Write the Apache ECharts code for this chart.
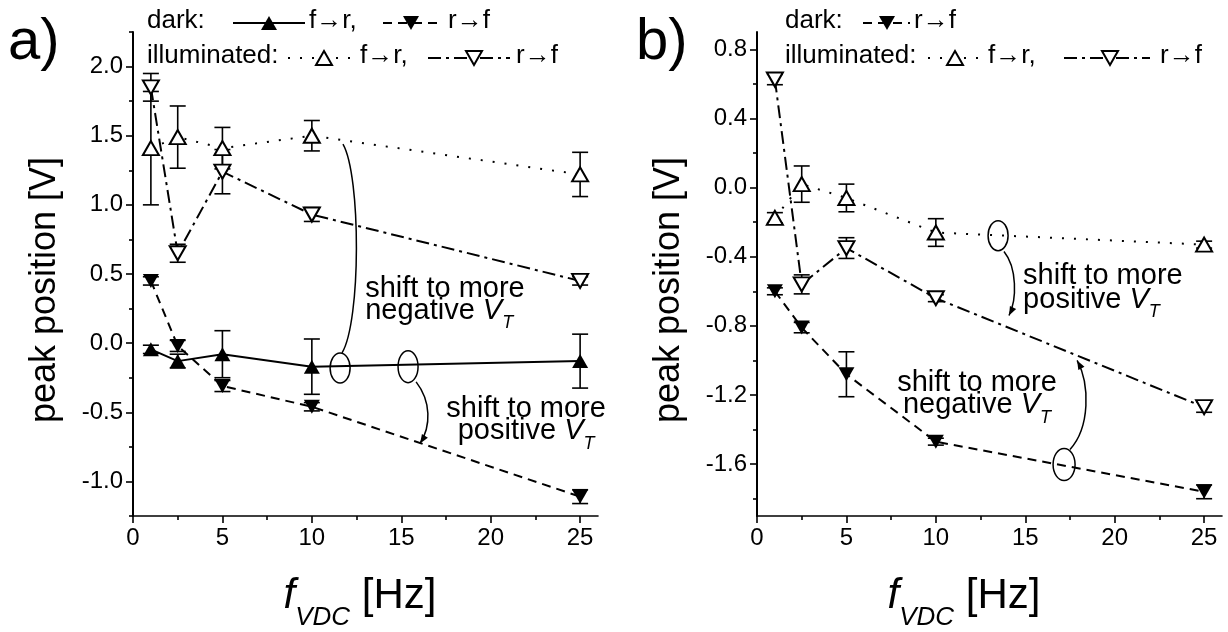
<!DOCTYPE html>
<html>
<head>
<meta charset="utf-8">
<script src="https://cdn.jsdelivr.net/npm/echarts@6.0.0/dist/echarts.min.js"></script>
<style>
  html, body { margin: 0; padding: 0; background: #fff; }
  #peak-chart { width: 1228px; height: 632px; }
</style>
</head>
<body>
<div id="peak-chart"></div>
<script>
// frequencies f_VDC [Hz]
var freq = [1, 2.5, 5, 10, 25];

// panel a) peak positions [V] and error bars
var aDarkFR = [-0.045, -0.13, -0.08, -0.17, -0.13];
var aDarkFRErr = [0.03, 0.05, 0.17, 0.2, 0.195];
var aDarkRF = [0.45, -0.02, -0.31, -0.46, -1.11];
var aDarkRFErr = [0.03, 0.04, 0.04, 0.03, 0.05];
var aIllFR = [1.41, 1.49, 1.41, 1.5, 1.22];
var aIllFRErr = [0.41, 0.225, 0.15, 0.11, 0.16];
var aIllRF = [1.85, 0.65, 1.24, 0.93, 0.45];
var aIllRFErr = [0.1, 0.065, 0.16, 0.05, 0.03];

// panel b)
var bDarkRF = [-0.6, -0.81, -1.08, -1.47, -1.76];
var bDarkRFErr = [0.02, 0.03, 0.13, 0.02, 0.04];
var bIllFR = [-0.175, 0.02, -0.06, -0.26, -0.33];
var bIllFRErr = [0.03, 0.105, 0.08, 0.08, 0.02];
var bIllRF = [0.625, -0.56, -0.35, -0.64, -1.27];
var bIllRFErr = [0.03, 0.055, 0.06, 0.02, 0.03];

// tick labels
var xTicks = [0, 5, 10, 15, 20, 25];
var xMinor = [2.5, 7.5, 12.5, 17.5, 22.5];
var aYTicks = [-1, -0.5, 0, 0.5, 1, 1.5, 2];
var aYMinor = [-1.25, -0.75, -0.25, 0.25, 0.75, 1.25, 1.75, 2.25];
var bYTicks = [-1.6, -1.2, -0.8, -0.4, 0, 0.4, 0.8];
var bYMinor = [-1.8, -1.4, -1.0, -0.6, -0.2, 0.2, 0.6];

var FONT = '"Liberation Sans", Arial, Helvetica, sans-serif';
var UP = 'path://M5,0 L10,9 L0,9 Z';
var DOWN = 'path://M0,0 L10,0 L5,9 Z';
var DASHED = [9, 6];
var DOTTED = [2, 10];
var DASHDOT = [13, 5, 3, 5];

function pairs(vals) {
  return freq.map(function (f, i) { return [f, vals[i]]; });
}
function bars(vals, errs) {
  return freq.map(function (f, i) { return [f, vals[i] - errs[i], vals[i] + errs[i]]; });
}

function errorSeries(ax, vals, errs) {
  return {
    type: 'custom', xAxisIndex: ax, yAxisIndex: ax, z: 2, silent: true,
    data: bars(vals, errs),
    encode: { x: 0, y: [1, 2] },
    renderItem: function (params, api) {
      var lo = api.coord([api.value(0), api.value(1)]);
      var hi = api.coord([api.value(0), api.value(2)]);
      var w = 8;
      var st = { stroke: '#000', lineWidth: 1.6 };
      return {
        type: 'group',
        children: [
          { type: 'line', shape: { x1: lo[0], y1: lo[1], x2: hi[0], y2: hi[1] }, style: st },
          { type: 'line', shape: { x1: lo[0] - w, y1: lo[1], x2: lo[0] + w, y2: lo[1] }, style: st },
          { type: 'line', shape: { x1: hi[0] - w, y1: hi[1], x2: hi[0] + w, y2: hi[1] }, style: st }
        ]
      };
    }
  };
}

function lineSeries(ax, vals, sym, filled, dash) {
  return {
    type: 'line', xAxisIndex: ax, yAxisIndex: ax, z: 3,
    data: pairs(vals),
    symbol: sym, symbolSize: [16, 14], showAllSymbol: true,
    lineStyle: { color: '#000', width: 2, type: dash },
    itemStyle: { color: filled ? '#000' : '#fff', borderColor: '#000', borderWidth: filled ? 0 : 2 },
    emphasis: { disabled: true },
    silent: true
  };
}

function xAxisDef(grid, ticks, len, labels) {
  return {
    type: 'value', gridIndex: grid, min: 0, max: 26, position: 'bottom',
    axisLine: { show: labels, onZero: false, lineStyle: { color: '#000', width: 1.6 } },
    axisTick: { show: true, customValues: ticks, length: len, lineStyle: { color: '#000', width: 1.6 } },
    axisLabel: {
      show: labels, customValues: ticks, color: '#000', fontSize: 24, fontFamily: FONT, margin: 10
    },
    splitLine: { show: false }
  };
}
function yAxisDef(grid, min, max, ticks, len, labels) {
  return {
    type: 'value', gridIndex: grid, min: min, max: max, position: 'left',
    axisLine: { show: labels, onZero: false, lineStyle: { color: '#000', width: 2 } },
    axisTick: { show: true, customValues: ticks, length: len, lineStyle: { color: '#000', width: 1.6 } },
    axisLabel: {
      show: labels, customValues: ticks, color: '#000', fontSize: 24, fontFamily: FONT, margin: 10,
      formatter: function (v) { return v.toFixed(1); }
    },
    splitLine: { show: false }
  };
}

var chart = echarts.init(document.getElementById('peak-chart'));

var option = {
  animation: false,
  backgroundColor: '#fff',
  textStyle: { fontFamily: FONT },
  grid: [
    { left: 133, top: 32, width: 465, height: 484, outerBoundsMode: 'none' },
    { left: 757, top: 32, width: 465, height: 484, outerBoundsMode: 'none' }
  ],
  xAxis: [
    xAxisDef(0, xTicks, 7, true),
    xAxisDef(1, xTicks, 7, true),
    xAxisDef(0, xMinor, 4, false),
    xAxisDef(1, xMinor, 4, false)
  ],
  yAxis: [
    yAxisDef(0, -1.25, 2.25, aYTicks, 7, true),
    yAxisDef(1, -1.9, 0.9, bYTicks, 7, true),
    yAxisDef(0, -1.25, 2.25, aYMinor, 4, false),
    yAxisDef(1, -1.9, 0.9, bYMinor, 4, false)
  ],
  series: [
    errorSeries(0, aDarkFR, aDarkFRErr),
    errorSeries(0, aDarkRF, aDarkRFErr),
    errorSeries(0, aIllFR, aIllFRErr),
    errorSeries(0, aIllRF, aIllRFErr),
    lineSeries(0, aDarkFR, UP, true, 'solid'),
    lineSeries(0, aDarkRF, DOWN, true, DASHED),
    lineSeries(0, aIllFR, UP, false, DOTTED),
    lineSeries(0, aIllRF, DOWN, false, DASHDOT),

    errorSeries(1, bDarkRF, bDarkRFErr),
    errorSeries(1, bIllFR, bIllFRErr),
    errorSeries(1, bIllRF, bIllRFErr),
    lineSeries(1, bDarkRF, DOWN, true, DASHED),
    lineSeries(1, bIllFR, UP, false, DOTTED),
    lineSeries(1, bIllRF, DOWN, false, DASHDOT)
  ]
};
chart.setOption(option);

// ---- text, legends and annotations ----
var measure = document.createElement('canvas').getContext('2d');
function fontStr(size, italic) { return (italic ? 'italic ' : '') + size + 'px ' + FONT; }
function textWidth(s, size, italic) {
  measure.font = fontStr(size, italic);
  return measure.measureText(s).width;
}
// text placed by its baseline
function txt(x, baseline, s, size, italic, align) {
  return {
    type: 'text', x: x, y: baseline - 0.31 * size, silent: true, z: 100,
    style: {
      text: s, fill: '#000', font: fontStr(size, italic),
      align: align || 'left', verticalAlign: 'middle',
      textAlign: align || 'left', textVerticalAlign: 'middle'
    }
  };
}
// parts: [text, italic, subscript]
function richLine(x, baseline, parts, size, align, subSize, subDrop) {
  var widths = parts.map(function (p) { return textWidth(p[0], p[2] ? subSize : size, p[1]); });
  var total = widths.reduce(function (a, b) { return a + b; }, 0);
  var cx = align === 'center' ? x - total / 2 : x;
  var out = [];
  parts.forEach(function (p, i) {
    out.push(txt(cx, p[2] ? baseline + subDrop : baseline, p[0], p[2] ? subSize : size, p[1]));
    cx += widths[i];
  });
  return out;
}

function sample(x1, x2, y, dash, sx, up, filled) {
  var tri = up
    ? [[sx, y - 7], [sx + 8, y + 7], [sx - 8, y + 7]]
    : [[sx - 8, y - 7], [sx + 8, y - 7], [sx, y + 7]];
  return [
    { type: 'line', silent: true, z: 100, shape: { x1: x1, y1: y, x2: x2, y2: y },
      style: { stroke: '#000', lineWidth: 2, lineDash: dash } },
    { type: 'polygon', silent: true, z: 101, shape: { points: tri },
      style: { fill: filled ? '#000' : '#fff', stroke: '#000', lineWidth: filled ? 0 : 2 } }
  ];
}

function toPx(g, p) { return chart.convertToPixel({ xAxisIndex: g, yAxisIndex: g }, p); }

function ellipseAt(g, p, rx, ry) {
  var c = toPx(g, p);
  return { type: 'ellipse', silent: true, z: 90, shape: { cx: c[0], cy: c[1], rx: rx, ry: ry },
    style: { fill: 'none', stroke: '#000', lineWidth: 1.5 } };
}
function curveAt(g, pts, arrow) {
  var p = pts.map(function (q) { return toPx(g, q); });
  var els = [{
    type: 'bezierCurve', silent: true, z: 90,
    shape: { x1: p[0][0], y1: p[0][1], cpx1: p[1][0], cpy1: p[1][1],
      cpx2: p[2][0], cpy2: p[2][1], x2: p[3][0], y2: p[3][1] },
    style: { fill: 'none', stroke: '#000', lineWidth: 1.5 }
  }];
  if (arrow) {
    var dx = p[3][0] - p[2][0], dy = p[3][1] - p[2][1];
    var L = Math.sqrt(dx * dx + dy * dy), ux = dx / L, uy = dy / L;
    var bx = p[3][0] - ux * 9, by = p[3][1] - uy * 9;
    els.push({ type: 'polygon', silent: true, z: 91,
      shape: { points: [[p[3][0], p[3][1]], [bx - uy * 3.5, by + ux * 3.5], [bx + uy * 3.5, by - ux * 3.5]] },
      style: { fill: '#000' } });
  }
  return els;
}

function buildGraphics() {
  var g = [];
  var LF = 26;   // legend font
  var AF = 29;   // annotation font
  var sub = [['negative ', false], ['V', true], ['T', true, true]];
  var subP = [['positive ', false], ['V', true], ['T', true, true]];

  // panel letters
  g.push(txt(8, 61, 'a)', 58));
  g.push(txt(636, 61, 'b)', 58));

  // axis titles
  g.push({ type: 'text', x: 45, y: 290, rotation: Math.PI / 2, silent: true,
    style: { text: 'peak position [V]', font: fontStr(36), fill: '#000',
      align: 'center', verticalAlign: 'middle', textAlign: 'center', textVerticalAlign: 'middle' } });
  g.push({ type: 'text', x: 669, y: 290, rotation: Math.PI / 2, silent: true,
    style: { text: 'peak position [V]', font: fontStr(36), fill: '#000',
      align: 'center', verticalAlign: 'middle', textAlign: 'center', textVerticalAlign: 'middle' } });
  var xt = [['f', true], ['VDC', true, true], [' [Hz]', false]];
  g = g.concat(richLine(360, 609, xt, 42, 'center', 26, 17));
  g = g.concat(richLine(964, 609, xt, 42, 'center', 26, 17));

  // legend panel a)
  g.push(txt(147, 29, 'dark:', LF));
  g = g.concat(sample(233, 305, 23, null, 269, true, true));
  g.push(txt(309, 29, 'f\u2192r,', LF));
  g = g.concat(sample(383, 440, 23, DASHED, 411, false, true));
  g.push(txt(448, 29, 'r\u2192f', LF));
  g.push(txt(147, 64, 'illuminated:', LF));
  g = g.concat(sample(288, 354, 58, DOTTED, 324, true, false));
  g.push(txt(360, 64, 'f\u2192r,', LF));
  g = g.concat(sample(428, 510, 58, DASHDOT, 474, false, false));
  g.push(txt(516, 64, 'r\u2192f', LF));

  // legend panel b)
  g.push(txt(785, 29, 'dark:', LF));
  g = g.concat(sample(863, 910, 23, DASHED, 887, false, true));
  g.push(txt(914, 29, 'r\u2192f', LF));
  g.push(txt(785, 64, 'illuminated:', LF));
  g = g.concat(sample(928, 980, 58, DOTTED, 955, true, false));
  g.push(txt(988, 64, 'f\u2192r,', LF));
  g = g.concat(sample(1064, 1150, 58, DASHDOT, 1110, false, false));
  g.push(txt(1160, 64, 'r\u2192f', LF));

  // annotations panel a)
  g.push(ellipseAt(0, [11.58, -0.18], 10, 15));
  g.push(ellipseAt(0, [15.38, -0.17], 10, 16));
  g = g.concat(curveAt(0, [[11.74, 1.44], [12.75, 1.21], [12.75, 0.16], [11.69, -0.07]], false));
  g = g.concat(curveAt(0, [[15.83, -0.28], [16.67, -0.42], [16.67, -0.6], [16.05, -0.725]], true));
  var a1 = toPx(0, [12.98, 0.326]);
  g.push(txt(a1[0], a1[1], 'shift to more', AF));
  g = g.concat(richLine(a1[0], a1[1] + 22, sub, AF, 'left', 18, 9));
  var a2 = toPx(0, [21.98, -0.543]);
  g.push(txt(a2[0], a2[1], 'shift to more', AF, false, 'center'));
  g = g.concat(richLine(a2[0], a2[1] + 22, subP, AF, 'center', 18, 9));

  // annotations panel b)
  g.push(ellipseAt(1, [13.48, -0.278], 10, 15));
  g.push(ellipseAt(1, [17.17, -1.602], 11, 16));
  g = g.concat(curveAt(1, [[13.81, -0.37], [14.54, -0.463], [14.54, -0.648], [14.09, -0.74]], true));
  g = g.concat(curveAt(1, [[17.5, -1.515], [18.62, -1.388], [18.62, -1.139], [17.9, -1.0]], true));
  var b1 = toPx(1, [14.88, -0.561]);
  g.push(txt(b1[0], b1[1], 'shift to more', AF));
  g = g.concat(richLine(b1[0], b1[1] + 24, subP, AF, 'left', 18, 9));
  var b2 = toPx(1, [12.3, -1.185]);
  g.push(txt(b2[0], b2[1], 'shift to more', AF, false, 'center'));
  g = g.concat(richLine(b2[0], b2[1] + 22, sub, AF, 'center', 18, 9));

  return g;
}

chart.setOption({ graphic: buildGraphics() });
</script>
</body>
</html>
